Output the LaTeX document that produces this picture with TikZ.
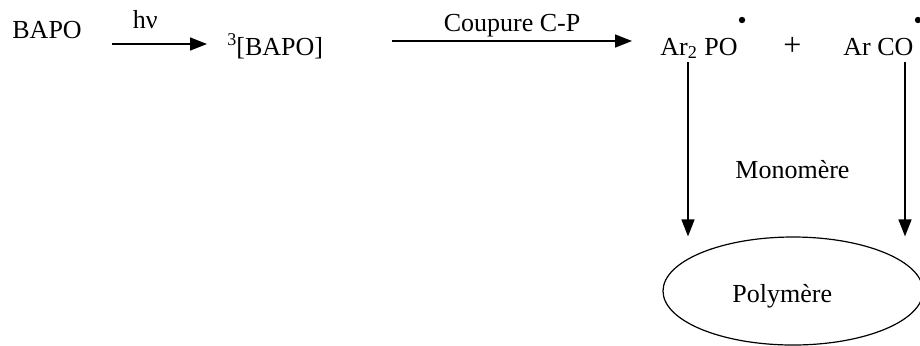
\documentclass[tikz,border=0pt]{standalone}
\usepackage{fontspec}
\setmainfont{Liberation Serif}
\usetikzlibrary{arrows.meta,positioning,shapes.geometric}

\begin{document}
\begin{tikzpicture}[x=0.5pt,y=-0.5pt,font=\fontsize{13}{15}\selectfont,
  >={Triangle[length=8.5pt,width=6.5pt]},
  chem/.style={inner sep=0pt,anchor=base west},
  flow/.style={->,line width=0.75pt},
  rad/.style={circle,fill,inner sep=0pt,minimum size=3.2pt}]
\useasboundingbox (0,0) rectangle (920,345);
% species along the top line
\node[chem] (bapo) at (12,38) {BAPO};
\node[chem] (tbapo) at (227,55) {{\fontsize{9}{9}\selectfont\raisebox{5pt}{3}}[BAPO]};
\node[chem] (arpo) at (660,55) {Ar\textsubscript{2} PO};
\node[chem] (plus) at (783,55) {\fontsize{16}{16}\selectfont +};
\node[chem] (arco) at (843,55) {Ar CO};
\node[rad] (dpo) at (742,20) {};
\node[rad] (dco) at (918,20) {};
% arrow ends
\coordinate (h1) at (112,44);
\coordinate (h2) at (207,44);
\coordinate (c1) at (392,41);
\coordinate (c2) at (632,41);
\coordinate (v1) at (688,62);
\coordinate (v2) at (905,62);
% product
\node[ellipse,draw,inner sep=0pt,line width=0.6pt,minimum width=130pt,minimum height=54pt] (poly) at (793,291) {};
\node[chem] (polyt) at (732,302) {Polymère};
\node[chem] (mono) at (735,178) {Monomère};
% arrows
\draw[flow] (h1) -- (h2) node[pos=0.35,above=4pt] {hν};
\draw[flow] (c1) -- (c2) node[midway,above=-1.5pt] {Coupure C-P};
\draw[flow] (v1) -- (v1 |- poly.north);
\draw[flow] (v2) -- (v2 |- poly.north);
\end{tikzpicture}
\end{document}
